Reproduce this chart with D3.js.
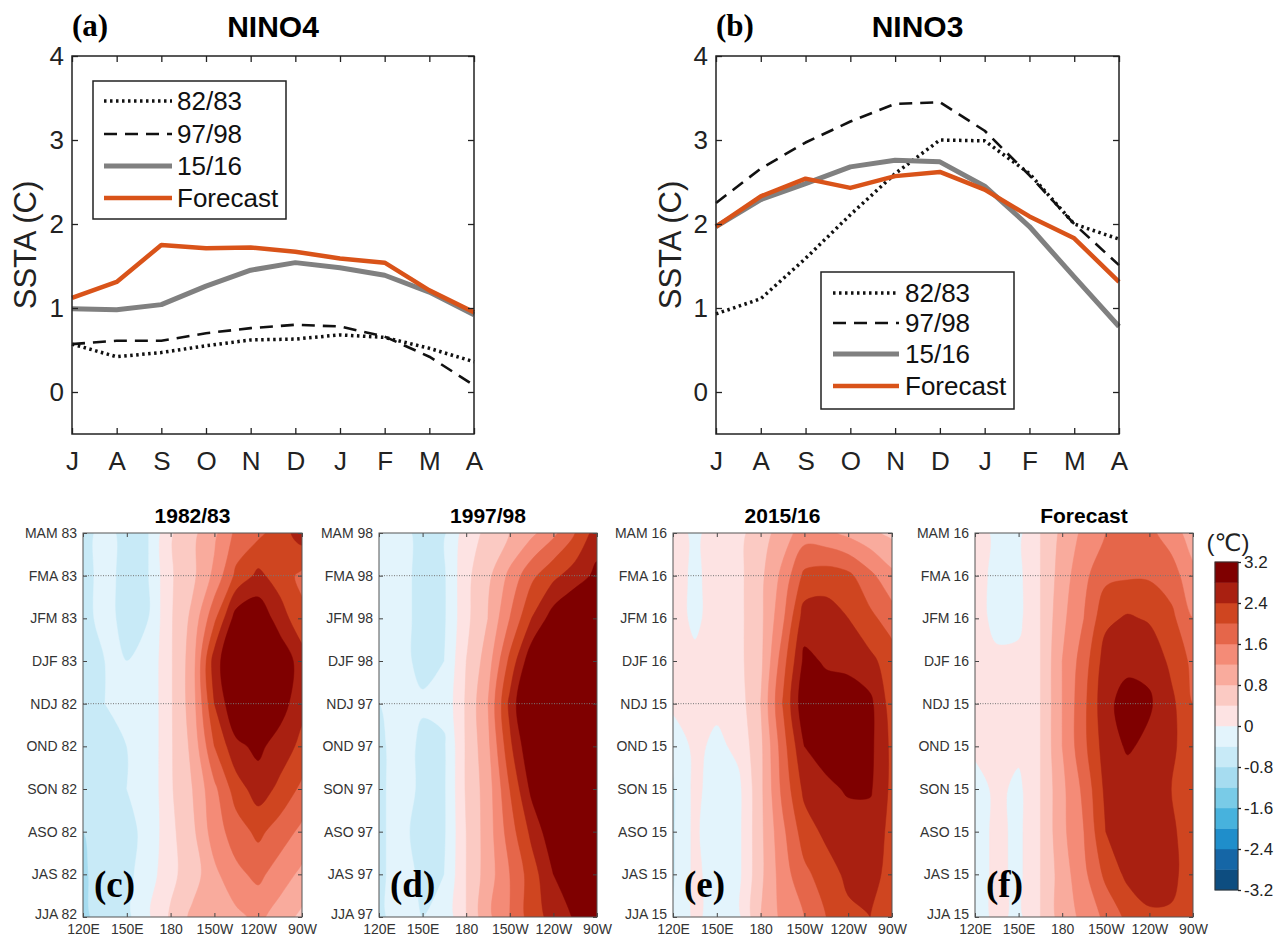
<!DOCTYPE html>
<html>
<head>
<meta charset="utf-8">
<script src="https://cdn.jsdelivr.net/npm/d3@7"></script>
<style>
  body { margin: 0; background: #fff; }
  text { font-family: "Liberation Sans", Arial, "DejaVu Sans", sans-serif; }
</style>
</head>
<body>
<script>
var width = 1276;
var height = 936;

/* ---- top panels: monthly SSTA ---- */
var months = ["J", "A", "S", "O", "N", "D", "J", "F", "M", "A"];
var seriesNames = ["82/83", "97/98", "15/16", "Forecast"];
var yTicks = [0, 1, 2, 3, 4];

// NINO4
var nino4_8283 = [0.57, 0.42, 0.47, 0.55, 0.62, 0.63, 0.68, 0.65, 0.52, 0.36];
var nino4_9798 = [0.57, 0.61, 0.61, 0.70, 0.76, 0.80, 0.78, 0.66, 0.42, 0.08];
var nino4_1516 = [0.99, 0.98, 1.04, 1.26, 1.45, 1.54, 1.48, 1.39, 1.19, 0.92];
var nino4_fcst = [1.12, 1.31, 1.75, 1.71, 1.72, 1.67, 1.59, 1.54, 1.21, 0.95];

// NINO3
var nino3_8283 = [0.93, 1.11, 1.59, 2.11, 2.60, 3.00, 2.99, 2.60, 2.00, 1.82];
var nino3_9798 = [2.25, 2.66, 2.97, 3.22, 3.43, 3.45, 3.11, 2.58, 2.00, 1.51];
var nino3_1516 = [1.97, 2.29, 2.48, 2.68, 2.76, 2.74, 2.45, 1.97, 1.37, 0.78];
var nino3_fcst = [1.97, 2.33, 2.54, 2.43, 2.57, 2.62, 2.41, 2.09, 1.83, 1.31];

/* ---- bottom panels: Hovmoller (longitude x season) ---- */
var lons = [120, 135, 150, 165, 180, 195, 210, 225, 240, 255, 270];
var lonTicks = [120, 150, 180, 210, 240, 270];
var lonLabels = ["120E", "150E", "180", "150W", "120W", "90W"];
var seasons = ["JJA", "JAS", "ASO", "SON", "OND", "NDJ", "DJF", "JFM", "FMA", "MAM"];
var cbarTicks = [3.2, 2.4, 1.6, 0.8, 0, -0.8, -1.6, -2.4, -3.2];

// rows listed top (MAM) to bottom (JJA), columns = lons
var grid8283 = [
  [-0.5, -0.3, -0.5, -0.4, 0.35, 0.7, 1.1, 1.7, 1.9, 2.2, 2.6],
  [-0.5, -0.3, -0.5, -0.4, 0.35, 0.7, 1.3, 2.1, 2.5, 2.2, 1.9],
  [-0.5, -0.3, -0.5, -0.4, 0.35, 0.9, 1.9, 3.0, 3.1, 2.6, 2.1],
  [-0.5, -0.4, -0.4, -0.3, 0.35, 1.0, 2.6, 3.3, 3.4, 3.1, 2.6],
  [-0.5, -0.4, -0.4, -0.3, 0.35, 1.0, 2.4, 3.2, 3.3, 3.0, 2.5],
  [-0.5, -0.5, -0.4, -0.3, 0.35, 0.9, 2.0, 2.7, 2.9, 2.6, 2.3],
  [-0.6, -0.5, -0.4, -0.3, 0.35, 0.8, 1.5, 2.2, 2.6, 2.3, 1.9],
  [-0.8, -0.5, -0.5, -0.3, 0.3, 0.7, 1.4, 1.8, 2.1, 1.8, 1.5],
  [-0.9, -0.5, -0.5, -0.2, 0.3, 0.6, 1.1, 1.5, 1.7, 1.4, 1.1],
  [-0.9, -0.6, -0.5, -0.05, 0.45, 0.9, 1.0, 1.1, 1.3, 1.0, 0.7]
];
var grid9798 = [
  [-0.2, -0.3, -0.5, -0.45, 0.2, 0.5, 0.8, 1.1, 1.5, 2.0, 2.6],
  [-0.2, -0.3, -0.5, -0.45, 0.3, 0.7, 1.3, 1.9, 2.3, 2.6, 2.9],
  [-0.2, -0.3, -0.5, -0.45, 0.3, 0.8, 1.6, 2.4, 3.0, 3.3, 3.4],
  [-0.2, -0.3, -0.5, -0.4, 0.4, 1.0, 2.1, 3.1, 3.5, 3.6, 3.6],
  [-0.4, -0.2, -0.35, -0.3, 0.45, 1.2, 2.5, 3.5, 3.7, 3.7, 3.7],
  [-0.5, -0.2, -0.5, -0.45, 0.45, 1.1, 2.3, 3.2, 3.6, 3.7, 3.7],
  [-0.5, -0.2, -0.5, -0.45, 0.45, 1.0, 2.0, 2.9, 3.4, 3.6, 3.7],
  [-0.5, -0.2, -0.7, -0.45, 0.4, 1.0, 1.8, 2.5, 3.1, 3.5, 3.6],
  [-0.5, -0.2, -0.5, -0.4, 0.4, 1.0, 1.6, 2.2, 2.8, 3.3, 3.5],
  [-0.5, -0.2, -0.4, -0.3, 0.4, 1.1, 1.6, 2.2, 2.55, 2.85, 3.3]
];
var grid1516 = [
  [0.2, -0.1, 0.2, 0.3, 0.6, 1.0, 1.4, 1.3, 1.1, 0.9, 0.7],
  [0.2, -0.1, 0.2, 0.3, 0.7, 1.3, 2.1, 2.2, 2.1, 1.7, 1.3],
  [0.2, -0.1, 0.2, 0.3, 0.7, 1.5, 2.6, 2.6, 2.4, 2.1, 1.8],
  [0.2, 0.1, 0.2, 0.3, 0.7, 1.8, 2.9, 2.75, 2.7, 2.5, 2.2],
  [0.1, 0.1, 0.1, 0.2, 0.8, 2.0, 3.1, 3.0, 3.0, 2.9, 2.2],
  [-0.3, 0.1, -0.1, 0.1, 0.7, 1.8, 2.8, 3.0, 2.9, 2.9, 2.3],
  [-0.45, 0.1, -0.2, -0.1, 0.7, 1.7, 2.5, 2.7, 2.85, 2.85, 2.3],
  [-0.45, 0.1, -0.4, -0.1, 0.7, 1.5, 2.2, 2.5, 2.6, 2.6, 2.3],
  [-0.45, 0.1, -0.2, -0.1, 0.7, 1.4, 1.9, 2.2, 2.5, 2.6, 2.2],
  [-0.45, 0.1, -0.2, -0.1, 0.8, 1.3, 1.6, 2.0, 2.3, 2.4, 2.2]
];
var gridFcst = [
  [0.2, -0.1, -0.1, 0.4, 0.9, 1.3, 1.6, 1.7, 1.7, 1.4, 1.0],
  [0.2, -0.15, -0.1, 0.4, 1.0, 1.5, 1.9, 1.95, 1.95, 1.8, 1.3],
  [0.2, -0.15, -0.1, 0.4, 1.1, 1.6, 2.3, 2.45, 2.35, 2.1, 1.6],
  [0.2, 0.1, 0.1, 0.4, 1.2, 1.8, 2.6, 2.7, 2.7, 2.3, 1.9],
  [0.2, 0.2, 0.2, 0.4, 1.2, 1.9, 2.7, 2.95, 2.85, 2.5, 2.0],
  [0.1, 0.2, 0.1, 0.4, 1.2, 1.9, 2.6, 2.85, 2.7, 2.5, 2.1],
  [-0.2, 0.1, -0.1, 0.4, 1.1, 1.7, 2.5, 2.6, 2.6, 2.4, 2.0],
  [-0.2, 0.1, -0.1, 0.4, 1.1, 1.6, 2.4, 2.7, 2.75, 2.5, 2.1],
  [-0.2, 0.1, -0.1, 0.4, 1.0, 1.5, 2.1, 2.5, 2.7, 2.5, 2.2],
  [-0.2, 0.1, -0.1, 0.4, 1.0, 1.3, 1.7, 2.1, 2.3, 2.35, 2.1]
];

// 16 colour bins of 0.4 from -3.2 to 3.2
var palette = ["#0d4d80", "#1566a6", "#1f8ecb", "#47b2dd", "#79cbe7", "#a6dcf0", "#c8eaf7", "#e3f4fc",
               "#fde3e3", "#fbcac3", "#f9ab9d", "#f48b77", "#e5664a", "#cf4520", "#a92011", "#7f0000"];
var levels = d3.range(-8, 8).map(function(i){ return Math.round(i * 4) / 10; });

var lineStyle = {
  "82/83":    {stroke: "#111", width: 3.5, dash: "2.5,3.5"},
  "97/98":    {stroke: "#111", width: 2.6, dash: "13,8"},
  "15/16":    {stroke: "#808080", width: 5, dash: null},
  "Forecast": {stroke: "#d95319", width: 4.5, dash: null}
};

var svg = d3.select("body").append("svg").attr("width", width).attr("height", height);

function styleAxis(g, size) {
  g.attr("font-family", null).attr("font-size", null);
  g.select(".domain").remove();
  g.selectAll(".tick line").attr("stroke", "#222").attr("stroke-width", 1.3);
  g.selectAll(".tick text").attr("fill", "#222").style("font-size", size + "px");
}

function drawLinePanel(p) {
  var top = 56, bottom = 434;
  var x = d3.scaleLinear().domain([0, months.length - 1]).range([p.x0, p.x1]);
  var y = d3.scaleLinear().domain([-0.5, 4]).range([bottom, top]);
  var g = svg.append("g");

  var line = d3.line()
    .x(function(d, i){ return x(i); })
    .y(function(d){ return y(d); });

  p.series.forEach(function(vals, k){
    var st = lineStyle[seriesNames[k]];
    g.append("path").datum(vals)
      .attr("d", line)
      .attr("fill", "none")
      .attr("stroke", st.stroke)
      .attr("stroke-width", st.width)
      .attr("stroke-dasharray", st.dash)
      .attr("stroke-linejoin", "round");
  });

  g.append("g").attr("transform", "translate(0," + bottom + ")")
    .call(d3.axisBottom(x).tickValues(d3.range(months.length))
      .tickFormat(function(i){ return months[i]; })
      .tickSize(-6).tickSizeOuter(0).tickPadding(18))
    .call(styleAxis, 26);
  g.append("g").attr("transform", "translate(0," + top + ")")
    .call(d3.axisTop(x).tickValues(d3.range(months.length)).tickFormat("")
      .tickSize(-6).tickSizeOuter(0))
    .call(styleAxis, 26);
  g.append("g").attr("transform", "translate(" + p.x0 + ",0)")
    .call(d3.axisLeft(y).tickValues(yTicks).tickFormat(d3.format("d"))
      .tickSize(-6).tickSizeOuter(0).tickPadding(8))
    .call(styleAxis, 26);
  g.append("g").attr("transform", "translate(" + p.x1 + ",0)")
    .call(d3.axisRight(y).tickValues(yTicks).tickFormat("").tickSize(-6).tickSizeOuter(0))
    .call(styleAxis, 26);

  g.append("rect")
    .attr("x", p.x0).attr("y", top)
    .attr("width", p.x1 - p.x0).attr("height", bottom - top)
    .attr("fill", "none").attr("stroke", "#222").attr("stroke-width", 1.5);

  // y label
  g.append("text")
    .attr("transform", "translate(" + p.ylabX + ",245) rotate(-90)")
    .attr("text-anchor", "middle")
    .attr("fill", "#222")
    .style("font-size", "31px")
    .text("SSTA (C)");

  // titles
  g.append("text").attr("x", (p.x0 + p.x1) / 2).attr("y", 37)
    .attr("text-anchor", "middle").style("font-size", "30px").style("font-weight", "bold")
    .text(p.title);
  g.append("text").attr("x", p.x0).attr("y", 36)
    .style("font-family", "'Liberation Serif', 'Times New Roman', serif")
    .style("font-size", "31px").style("font-weight", "bold")
    .text(p.tag);

  // legend
  var lg = p.legend;
  g.append("rect")
    .attr("x", lg.x0).attr("y", lg.y0)
    .attr("width", lg.x1 - lg.x0).attr("height", lg.y1 - lg.y0)
    .attr("fill", "#fff").attr("stroke", "#222").attr("stroke-width", 1.5);
  seriesNames.forEach(function(name, k){
    var st = lineStyle[name];
    var yy = lg.rows[k];
    g.append("line")
      .attr("x1", lg.lx0).attr("x2", lg.lx1).attr("y1", yy).attr("y2", yy)
      .attr("stroke", st.stroke).attr("stroke-width", st.width)
      .attr("stroke-dasharray", st.dash);
    g.append("text")
      .attr("x", lg.tx).attr("y", yy).attr("dy", "0.36em")
      .attr("fill", "#111").style("font-size", "26px")
      .text(name);
  });
}

drawLinePanel({
  x0: 72, x1: 474, ylabX: 36, title: "NINO4", tag: "(a)",
  series: [nino4_8283, nino4_9798, nino4_1516, nino4_fcst],
  legend: {x0: 93, x1: 286, y0: 81, y1: 219, lx0: 104, lx1: 172, tx: 177, rows: [101, 134, 166, 198]}
});
drawLinePanel({
  x0: 716, x1: 1119, ylabX: 681, title: "NINO3", tag: "(b)",
  series: [nino3_8283, nino3_9798, nino3_1516, nino3_fcst],
  legend: {x0: 821, x1: 1014, y0: 272, y1: 409, lx0: 833, lx1: 899, tx: 905, rows: [293, 323, 354, 386]}
});

/* ---- Hovmoller panels ---- */
var ringLine = d3.line().curve(d3.curveCatmullRomClosed.alpha(0.5));

function drawHov(p, idx) {
  var y0 = 533, y1 = 917;
  var x = d3.scaleLinear().domain([lons[0], lons[lons.length - 1]]).range([p.x0, p.x1]);
  var labels = seasons.map(function(s, i){ return s + " " + (i < 6 ? p.yrs[0] : p.yrs[1]); });
  var y = d3.scalePoint().domain(labels).range([y1, y0]);
  var g = svg.append("g");

  // grid coordinates -> pixels (samples sit at cell centres)
  var gx = d3.scaleLinear().domain([0.5, lons.length - 0.5]).range([x(lons[0]), x(lons[lons.length - 1])]);
  var gy = d3.scaleLinear().domain([0.5, seasons.length - 0.5]).range([y0, y1]);

  function contourPath(d) {
    var s = "";
    d.coordinates.forEach(function(poly){
      poly.forEach(function(ring){
        s += ringLine(ring.slice(0, -1).map(function(pt){ return [gx(pt[0]), gy(pt[1])]; }));
      });
    });
    return s;
  }

  var clipId = "clip" + idx;
  g.append("clipPath").attr("id", clipId).append("rect")
    .attr("x", p.x0).attr("y", y0).attr("width", p.x1 - p.x0).attr("height", y1 - y0);

  var flat = [].concat.apply([], p.grid);
  var cs = d3.contours().size([lons.length, seasons.length]).thresholds(levels)(flat);
  g.append("g").attr("clip-path", "url(#" + clipId + ")")
    .selectAll("path").data(cs).enter().append("path")
    .attr("d", contourPath)
    .attr("fill", function(d){ return palette[levels.indexOf(d.value)]; })
    .attr("stroke", function(d){ return palette[levels.indexOf(d.value)]; })
    .attr("stroke-width", 0.5);

  // dotted reference lines at FMA and NDJ
  [labels[8], labels[5]].forEach(function(l){
    g.append("line").attr("x1", p.x0).attr("x2", p.x1).attr("y1", y(l)).attr("y2", y(l))
      .attr("stroke", "#777").attr("stroke-width", 1).attr("stroke-dasharray", "1,1.5");
  });

  g.append("g").attr("transform", "translate(0," + y1 + ")")
    .call(d3.axisBottom(x).tickValues(lonTicks)
      .tickFormat(function(d, i){ return lonLabels[i]; })
      .tickSize(-4).tickSizeOuter(0).tickPadding(7))
    .call(styleAxis, 14);
  g.append("g").attr("transform", "translate(0," + y0 + ")")
    .call(d3.axisTop(x).tickValues(lonTicks).tickFormat("").tickSize(-4).tickSizeOuter(0))
    .call(styleAxis, 14);
  var ly = g.append("g").attr("transform", "translate(" + p.x0 + ",0)")
    .call(d3.axisLeft(y).tickSize(-4).tickSizeOuter(0).tickPadding(6))
    .call(styleAxis, 14);
  ly.selectAll(".tick text").filter(function(d, i){ return i === 0; }).attr("dy", "0.1em");
  g.append("g").attr("transform", "translate(" + p.x1 + ",0)")
    .call(d3.axisRight(y).tickFormat("").tickSize(-4).tickSizeOuter(0))
    .call(styleAxis, 14);
  g.selectAll(".tick text").attr("fill", "#333");
  g.selectAll(".tick line").attr("stroke", "#444").attr("stroke-width", 1);

  g.append("rect")
    .attr("x", p.x0).attr("y", y0).attr("width", p.x1 - p.x0).attr("height", y1 - y0)
    .attr("fill", "none").attr("stroke", "#555").attr("stroke-width", 1);

  g.append("text").attr("x", (p.x0 + p.x1) / 2).attr("y", 523)
    .attr("text-anchor", "middle").style("font-size", "21px").style("font-weight", "bold")
    .text(p.title);
  g.append("text").attr("x", p.x0 + 11).attr("y", 897)
    .style("font-family", "'Liberation Serif', 'Times New Roman', serif")
    .style("font-size", "37px").style("font-weight", "bold")
    .text(p.tag);
}

var hovPanels = [
  {title: "1982/83", tag: "(c)", yrs: ["82", "83"], grid: grid8283, x0: 83, x1: 302},
  {title: "1997/98", tag: "(d)", yrs: ["97", "98"], grid: grid9798, x0: 379, x1: 597},
  {title: "2015/16", tag: "(e)", yrs: ["15", "16"], grid: grid1516, x0: 673, x1: 892},
  {title: "Forecast", tag: "(f)", yrs: ["15", "16"], grid: gridFcst, x0: 975, x1: 1193}
];
hovPanels.forEach(drawHov);

/* ---- colour bar ---- */
var cb = svg.append("g");
var cy = d3.scaleLinear().domain([-3.2, 3.2]).range([890, 562]);
cb.selectAll("rect.bin").data(levels).enter().append("rect")
  .attr("class", "bin")
  .attr("x", 1215).attr("width", 23)
  .attr("y", function(d){ return cy(d + 0.4); })
  .attr("height", function(d){ return cy(d) - cy(d + 0.4); })
  .attr("fill", function(d, i){ return palette[i]; })
  .attr("stroke", function(d, i){ return palette[i]; })
  .attr("stroke-width", 0.5);
cb.append("rect").attr("x", 1215).attr("y", 562).attr("width", 23).attr("height", 328)
  .attr("fill", "none").attr("stroke", "#333").attr("stroke-width", 1);
cb.append("g").attr("transform", "translate(1238,0)")
  .call(d3.axisRight(cy).tickValues(cbarTicks).tickFormat(function(d){ return String(d); })
    .tickSize(3).tickSizeOuter(0).tickPadding(3))
  .call(styleAxis, 17);
cb.append("text").attr("x", 1228).attr("y", 551).attr("text-anchor", "middle")
  .attr("fill", "#222").style("font-size", "24px")
  .text("(\u2103)");
</script>
</body>
</html>
